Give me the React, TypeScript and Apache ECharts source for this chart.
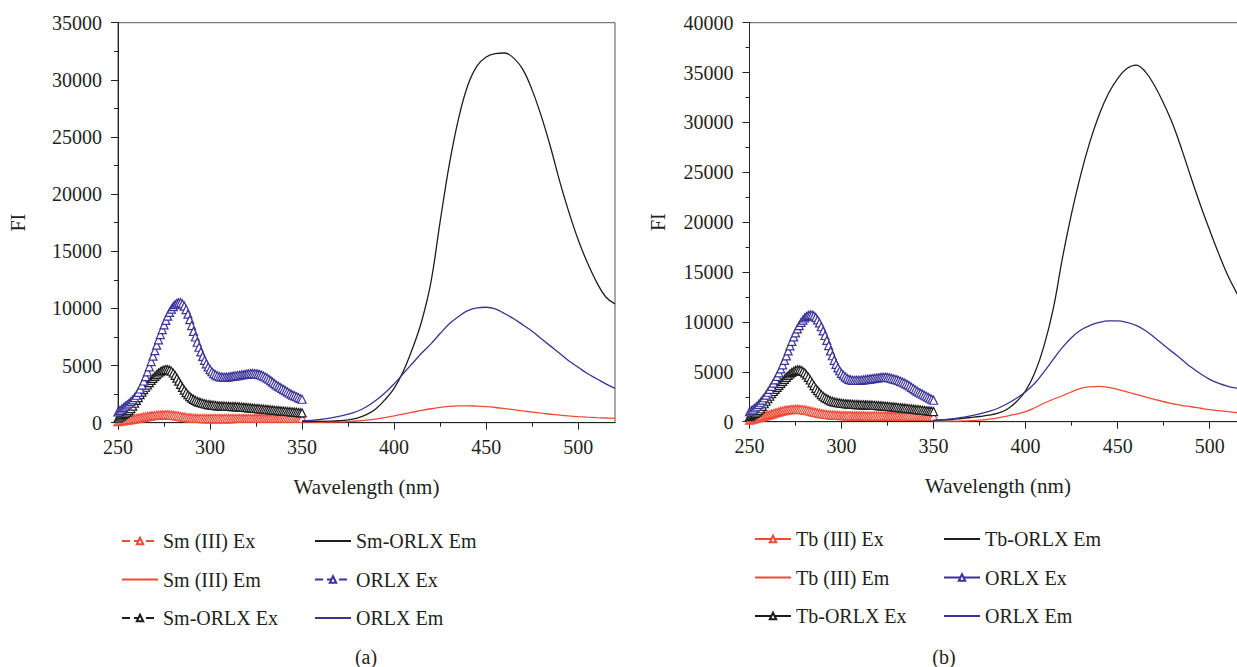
import React, { useEffect, useRef } from "react";
import * as echarts from "echarts";

// Wavelength grids (nm)
const exWavelengths = [
  250, 251, 252, 253, 254, 255, 256, 257, 258, 259, 260, 261, 262, 263, 264, 265, 266, 267, 268, 269,
  270, 271, 272, 273, 274, 275, 276, 277, 278, 279, 280, 281, 282, 283, 284, 285, 286, 287, 288, 289,
  290, 291, 292, 293, 294, 295, 296, 297, 298, 299, 300, 301, 302, 303, 304, 305, 306, 307, 308, 309,
  310, 311, 312, 313, 314, 315, 316, 317, 318, 319, 320, 321, 322, 323, 324, 325, 326, 327, 328, 329,
  330, 331, 332, 333, 334, 335, 336, 337, 338, 339, 340, 341, 342, 343, 344, 345, 346, 347, 348, 349,
  350,
];
const emWavelengths = [
  350, 355, 360, 365, 370, 375, 380, 385, 390, 395, 400, 405, 410, 415, 420, 425, 430, 435, 440, 445,
  450, 455, 460, 465, 470, 475, 480, 485, 490, 495, 500, 505, 510, 515, 520,
];

// Panel (a): Sm
const smIIIEx = [
  100, 125, 150, 175, 200, 225, 250, 275, 300, 330,
  360, 390, 420, 450, 480, 510, 540, 565, 590, 610,
  630, 645, 660, 670, 680, 685, 690, 688, 680, 668,
  650, 627, 600, 570, 540, 510, 480, 455, 430, 415,
  400, 390, 380, 375, 370, 367, 365, 362, 360, 360,
  360, 360, 360, 360, 360, 360, 360, 362, 365, 365,
  365, 365, 365, 367, 370, 370, 370, 370, 370, 370,
  370, 370, 370, 370, 370, 372, 375, 375, 375, 375,
  375, 375, 375, 377, 380, 380, 380, 380, 380, 380,
  380, 382, 385, 385, 385, 385, 385, 387, 390, 390,
  390,
];
const smIIIEm = [
  30, 30, 40, 50, 70, 100, 150, 220, 320, 450, 600, 760, 920, 1080, 1220, 1340, 1420, 1470, 1480, 1450,
  1400, 1330, 1240, 1140, 1030, 930, 830, 740, 660, 590, 530, 480, 440, 410, 380,
];
const smOrlxEx = [
  400, 500, 600, 700, 800, 920, 1050, 1240, 1450, 1700,
  1950, 2200, 2450, 2680, 2900, 3100, 3300, 3500, 3700, 3880,
  4050, 4210, 4350, 4460, 4550, 4610, 4650, 4640, 4600, 4500,
  4350, 4140, 3900, 3630, 3350, 3090, 2850, 2640, 2450, 2290,
  2150, 2040, 1950, 1870, 1800, 1750, 1700, 1660, 1620, 1590,
  1560, 1540, 1520, 1500, 1480, 1470, 1460, 1450, 1440, 1435,
  1430, 1420, 1410, 1405, 1400, 1390, 1380, 1365, 1350, 1335,
  1320, 1305, 1290, 1275, 1260, 1245, 1230, 1215, 1200, 1185,
  1170, 1155, 1140, 1120, 1100, 1085, 1070, 1055, 1040, 1025,
  1010, 995, 980, 965, 950, 935, 920, 905, 890, 875,
  860,
];
const smOrlxEm = [
  100, 100, 110, 130, 170, 250, 400, 700, 1200, 2000, 3000, 4500, 6500, 8900, 12300, 17600, 22600, 26600, 29500, 31200,
  32000, 32300, 32350, 31900, 30900, 29100, 26800, 24100, 21100, 18400, 16000, 14000, 12300, 11000, 10400,
];
const orlxExA = [
  950, 1070, 1200, 1320, 1450, 1570, 1700, 1840, 2000, 2190,
  2400, 2660, 2950, 3290, 3650, 4040, 4450, 4890, 5350, 5820,
  6300, 6780, 7250, 7710, 8150, 8560, 8950, 9320, 9650, 9930,
  10150, 10330, 10450, 10500, 10500, 10390, 10200, 9900, 9500, 9020,
  8500, 7990, 7500, 7040, 6600, 6190, 5800, 5460, 5150, 4880,
  4650, 4460, 4300, 4190, 4100, 4040, 4000, 3980, 3970, 3980,
  4000, 4025, 4050, 4075, 4100, 4125, 4150, 4175, 4200, 4225,
  4250, 4280, 4300, 4305, 4300, 4280, 4250, 4205, 4150, 4080,
  4000, 3905, 3800, 3680, 3550, 3420, 3300, 3200, 3100, 3000,
  2900, 2800, 2700, 2600, 2500, 2420, 2350, 2270, 2200, 2120,
  2050,
];
const orlxEmA = [
  170, 200, 280, 400, 550, 750, 1000, 1400, 1950, 2600, 3400, 4300, 5200, 6100, 6900, 7800, 8650, 9300, 9800, 10050,
  10100, 9950, 9550, 9100, 8550, 8000, 7350, 6700, 6050, 5400, 4850, 4300, 3850, 3400, 3000,
];

// Panel (b): Tb
const tbIIIEx = [
  150, 200, 250, 300, 350, 400, 450, 500, 550, 600,
  650, 705, 760, 815, 870, 925, 980, 1030, 1080, 1120,
  1150, 1178, 1200, 1218, 1230, 1237, 1240, 1233, 1220, 1198,
  1170, 1137, 1100, 1055, 1010, 965, 920, 880, 840, 805,
  770, 745, 720, 700, 680, 665, 650, 640, 630, 620,
  610, 605, 600, 595, 590, 588, 585, 583, 580, 578,
  575, 575, 575, 573, 570, 570, 570, 570, 570, 568,
  565, 565, 565, 563, 560, 560, 560, 558, 555, 555,
  555, 553, 550, 550, 550, 548, 545, 543, 540, 540,
  540, 538, 535, 533, 530, 528, 525, 523, 520, 520,
  520,
];
const tbIIIEm = [
  30, 40, 50, 70, 100, 150, 250, 380, 550, 770, 1000, 1400, 1850, 2250, 2600, 3000, 3350, 3500, 3550, 3450,
  3250, 3000, 2750, 2500, 2250, 2000, 1800, 1620, 1500, 1350, 1200, 1100, 1000, 900, 820,
];
const tbOrlxEx = [
  500, 600, 700, 820, 950, 1120, 1300, 1540, 1800, 2050,
  2300, 2550, 2800, 3030, 3250, 3450, 3650, 3850, 4050, 4250,
  4450, 4630, 4800, 4940, 5050, 5140, 5200, 5190, 5150, 5040,
  4900, 4690, 4450, 4180, 3900, 3620, 3350, 3120, 2900, 2720,
  2550, 2420, 2300, 2200, 2100, 2040, 1980, 1940, 1900, 1875,
  1850, 1825, 1800, 1785, 1770, 1755, 1740, 1730, 1720, 1710,
  1700, 1695, 1690, 1685, 1680, 1670, 1660, 1650, 1640, 1625,
  1610, 1595, 1580, 1565, 1550, 1535, 1520, 1500, 1480, 1460,
  1440, 1420, 1400, 1380, 1360, 1340, 1320, 1300, 1280, 1255,
  1230, 1210, 1190, 1170, 1150, 1125, 1100, 1080, 1060, 1040,
  1020,
];
const tbOrlxEm = [
  100, 150, 220, 320, 420, 520, 650, 850, 1250, 2000, 3100, 4900, 7600, 11300, 16400, 20900, 24800, 28100, 30800, 32900,
  34400, 35400, 35750, 35100, 33700, 31900, 29800, 27200, 24400, 21700, 19200, 16800, 14600, 12800, 11200,
];
const orlxExB = [
  1000, 1120, 1250, 1400, 1550, 1740, 1950, 2170, 2400, 2670,
  2950, 3250, 3550, 3870, 4200, 4540, 4900, 5290, 5700, 6140,
  6600, 7100, 7600, 8060, 8500, 8910, 9300, 9640, 9950, 10190,
  10400, 10550, 10650, 10700, 10700, 10600, 10450, 10200, 9900, 9520,
  9100, 8640, 8150, 7630, 7100, 6610, 6150, 5750, 5400, 5110,
  4850, 4660, 4500, 4360, 4250, 4190, 4150, 4150, 4150, 4150,
  4150, 4175, 4200, 4225, 4250, 4275, 4300, 4325, 4350, 4375,
  4400, 4430, 4450, 4455, 4450, 4430, 4400, 4355, 4300, 4250,
  4200, 4130, 4050, 3980, 3900, 3800, 3700, 3580, 3450, 3320,
  3200, 3070, 2950, 2850, 2750, 2650, 2550, 2450, 2350, 2250,
  2150,
];
const orlxEmB = [
  150, 200, 280, 420, 580, 780, 1030, 1350, 1800, 2350, 3000, 3850, 5000, 6250, 7450, 8450, 9200, 9650, 9950, 10100,
  10100, 9950, 9650, 9150, 8450, 7700, 6950, 6200, 5450, 4800, 4250, 3850, 3550, 3350, 3150,
];

// Axis ticks
const xTickValues = [250, 300, 350, 400, 450, 500];
const xMinorTickValues = [275, 325, 375, 425, 475];

const FONT = "Liberation Serif";
const TEXT = "#231f20";
const AXIS = "#222";
const RED = "#ef4a36";
const BLUE = "#3b3396";
const BLACK = "#1e1e1e";

type SDef = { name: string; x: number[]; y: number[]; color: string; ex: boolean };

function buildSeries(defs: SDef[], dashed: boolean) {
  return defs.map((d, k) => {
    const data = d.x.map((w, i) => [w, d.y[i]]);
    if (d.ex) {
      return {
        type: "line",
        name: d.name,
        data,
        xAxisIndex: 0,
        yAxisIndex: 0,
        smooth: 0.3,
        symbol: "triangle",
        symbolSize: 8,
        showSymbol: true,
        itemStyle: { color: "#ffffff", borderColor: d.color, borderWidth: 1.2 },
        lineStyle: { color: d.color, width: 1, type: dashed ? "dashed" : "solid" },
        emphasis: { disabled: true },
        z: 2 + k,
      };
    }
    return {
      type: "line",
      name: d.name,
      data,
      xAxisIndex: 0,
      yAxisIndex: 0,
      smooth: 0.4,
      symbol: "none",
      showSymbol: false,
      itemStyle: { color: d.color },
      lineStyle: { color: d.color, width: 1.3 },
      emphasis: { disabled: true },
      z: 2 + k,
    };
  });
}

function legendItem(d: SDef) {
  if (d.ex) return { name: d.name };
  return { name: d.name, itemStyle: { opacity: 0 } };
}

function buildOption(p: {
  defs: SDef[];
  dashed: boolean;
  gridLeft: number;
  gridTop: number;
  gridWidth: number;
  gridHeight: number;
  yMax: number;
  yNameGap: number;
  legendLeft1: number;
  legendLeft2: number;
  legendTop: number;
  legendGap: number;
  caption: string;
  captionX: number;
}) {
  const textStyle = { fontFamily: FONT, fontSize: 20, color: TEXT };
  const legendBase = {
    orient: "vertical",
    top: p.legendTop,
    itemWidth: 36,
    itemHeight: 8,
    itemGap: p.legendGap,
    selectedMode: false,
    textStyle: { ...textStyle, lineHeight: 20 },
  };
  return {
    animation: false,
    backgroundColor: "#ffffff",
    grid: {
      left: p.gridLeft,
      top: p.gridTop,
      width: p.gridWidth,
      height: p.gridHeight,
      show: true,
      borderColor: "#555",
      borderWidth: 1,
      backgroundColor: "transparent",
    },
    xAxis: [
      {
        type: "value",
        min: 250,
        max: 520,
        position: "bottom",
        axisLine: { show: true, onZero: false, lineStyle: { color: AXIS, width: 1 } },
        axisTick: { show: true, customValues: xTickValues, length: 7, lineStyle: { color: AXIS } },
        axisLabel: { customValues: xTickValues, margin: 14, ...textStyle },
        splitLine: { show: false },
        name: "Wavelength (nm)",
        nameLocation: "middle",
        nameGap: 54,
        nameTextStyle: { ...textStyle, fontSize: 21 },
      },
      {
        type: "value",
        min: 250,
        max: 520,
        position: "bottom",
        axisLine: { show: false, onZero: false },
        axisTick: { show: true, customValues: xMinorTickValues, length: 4, lineStyle: { color: AXIS } },
        axisLabel: { show: false },
        splitLine: { show: false },
      },
    ],
    yAxis: {
      type: "value",
      min: 0,
      max: p.yMax,
      interval: 5000,
      axisLine: { show: true, lineStyle: { color: AXIS, width: 1 } },
      axisTick: { show: true, length: 7, lineStyle: { color: AXIS } },
      minorTick: { show: true, splitNumber: 2, length: 4, lineStyle: { color: AXIS } },
      axisLabel: { margin: 16, ...textStyle, formatter: (v: number) => String(v) },
      splitLine: { show: false },
      minorSplitLine: { show: false },
      name: "FI",
      nameLocation: "middle",
      nameRotate: 90,
      nameGap: p.yNameGap,
      nameTextStyle: textStyle,
    },
    legend: [
      { ...legendBase, left: p.legendLeft1, data: [p.defs[0], p.defs[1], p.defs[2]].map(legendItem) },
      { ...legendBase, left: p.legendLeft2, data: [p.defs[3], p.defs[4], p.defs[5]].map(legendItem) },
    ],
    graphic: [
      {
        type: "text",
        x: p.captionX,
        y: 657,
        style: {
          text: p.caption,
          fill: TEXT,
          font: `20px ${FONT}`,
          textAlign: "center",
          textVerticalAlign: "middle",
        },
      },
    ],
    series: buildSeries(p.defs, p.dashed),
  };
}

const defsA: SDef[] = [
  { name: "Sm (III) Ex", x: exWavelengths, y: smIIIEx, color: RED, ex: true },
  { name: "Sm (III) Em", x: emWavelengths, y: smIIIEm, color: RED, ex: false },
  { name: "Sm-ORLX Ex", x: exWavelengths, y: smOrlxEx, color: BLACK, ex: true },
  { name: "Sm-ORLX Em", x: emWavelengths, y: smOrlxEm, color: BLACK, ex: false },
  { name: "ORLX Ex", x: exWavelengths, y: orlxExA, color: BLUE, ex: true },
  { name: "ORLX Em", x: emWavelengths, y: orlxEmA, color: BLUE, ex: false },
];
const defsB: SDef[] = [
  { name: "Tb (III) Ex", x: exWavelengths, y: tbIIIEx, color: RED, ex: true },
  { name: "Tb (III) Em", x: emWavelengths, y: tbIIIEm, color: RED, ex: false },
  { name: "Tb-ORLX Ex", x: exWavelengths, y: tbOrlxEx, color: BLACK, ex: true },
  { name: "Tb-ORLX Em", x: emWavelengths, y: tbOrlxEm, color: BLACK, ex: false },
  { name: "ORLX Ex", x: exWavelengths, y: orlxExB, color: BLUE, ex: true },
  { name: "ORLX Em", x: emWavelengths, y: orlxEmB, color: BLUE, ex: false },
];

export default function App() {
  const leftRef = useRef<HTMLDivElement>(null);
  const rightRef = useRef<HTMLDivElement>(null);

  useEffect(() => {
    const a = echarts.init(leftRef.current as HTMLDivElement, undefined, { renderer: "svg" });
    const b = echarts.init(rightRef.current as HTMLDivElement, undefined, { renderer: "svg" });
    a.setOption(
      buildOption({
        defs: defsA,
        dashed: true,
        gridLeft: 118,
        gridTop: 22.7,
        gridWidth: 497,
        gridHeight: 400,
        yMax: 35000,
        yNameGap: 90,
        legendLeft1: 116,
        legendLeft2: 309,
        legendTop: 526,
        legendGap: 18.5,
        caption: "(a)",
        captionX: 366,
      }) as any
    );
    b.setOption(
      buildOption({
        defs: defsB,
        dashed: false,
        gridLeft: 129.5,
        gridTop: 22.7,
        gridWidth: 497,
        gridHeight: 399,
        yMax: 40000,
        yNameGap: 82,
        legendLeft1: 129,
        legendLeft2: 318,
        legendTop: 524,
        legendGap: 18.5,
        caption: "(b)",
        captionX: 324,
      }) as any
    );
    return () => {
      a.dispose();
      b.dispose();
    };
  }, []);

  return (
    <div
      style={{
        position: "absolute",
        left: 0,
        top: 0,
        width: 1237,
        height: 667,
        overflow: "hidden",
        background: "#ffffff",
      }}
    >
      <div ref={leftRef} style={{ position: "absolute", left: 0, top: 0, width: 620, height: 667 }} />
      <div ref={rightRef} style={{ position: "absolute", left: 620, top: 0, width: 640, height: 667 }} />
    </div>
  );
}
